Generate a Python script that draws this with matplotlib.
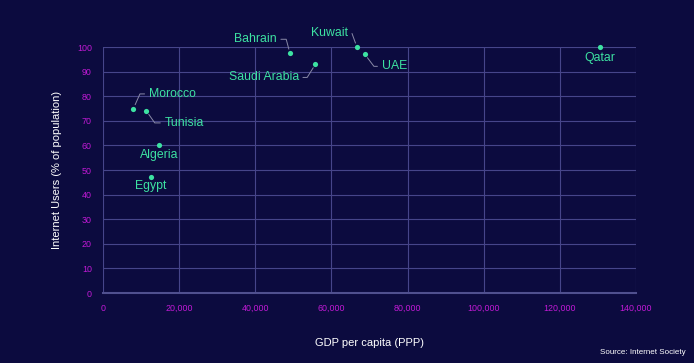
import matplotlib
matplotlib.use("Agg")
import matplotlib.pyplot as plt
from matplotlib.ticker import FuncFormatter, MultipleLocator

# data
countries = ["Bahrain", "Saudi Arabia", "Kuwait", "UAE", "Qatar",
             "Morocco", "Tunisia", "Algeria", "Egypt"]
gdp = [49100, 55800, 66700, 68800, 130500, 8000, 11400, 14800, 12600]
internet = [97.5, 93, 100, 97, 100, 75, 74, 60, 47]

# label placement: offset (points), ha, leader angle at the point (None = no line)
label_pos = {
    "Bahrain": ((-9.5, 10), "right", 105),
    "Saudi Arabia": ((-12, -9.5), "right", 238),
    "Kuwait": ((-6.5, 10), "right", 110),
    "UAE": ((12, -8.6), "left", -53),
    "Qatar": ((0, -8), "center", None),
    "Morocco": ((11, 10.5), "left", 66),
    "Tunisia": ((13, -8.6), "left", -55),
    "Algeria": ((0, -7), "center", None),
    "Egypt": ((0, -6), "center", None),
}

bg = "#0c0b3f"
green = "#3de2a2"
magenta = "#c21ad6"
gridc = "#46458a"

plt.rcParams["font.family"] = ["Liberation Sans", "DejaVu Sans"]

fig = plt.figure(figsize=(6.94, 3.63), dpi=100, facecolor=bg)
ax = fig.add_axes([0.1484, 0.1928, 0.7680, 0.6777], facecolor=bg)

ax.scatter(gdp, internet, s=14, color=green, zorder=3, linewidths=0, clip_on=False)

for c, x, y in zip(countries, gdp, internet):
    off, ha, ang = label_pos[c]
    if ang is None:
        ax.annotate(c, (x, y), xytext=off, textcoords="offset points",
                    ha=ha, va="center", color=green, fontsize=8.8)
    else:
        ax.annotate(c, (x, y), xytext=off, textcoords="offset points",
                    ha=ha, va="center", color=green, fontsize=8.8,
                    arrowprops=dict(arrowstyle="-", color="#8a8aa8", lw=0.7,
                                    shrinkA=1, shrinkB=3,
                                    connectionstyle="angle,angleA=0,angleB=%d,rad=0" % ang))

ax.set_xlim(0, 140000)
ax.set_ylim(0, 100)
ax.xaxis.set_major_locator(MultipleLocator(20000))
ax.yaxis.set_major_locator(MultipleLocator(10))
ax.xaxis.set_major_formatter(FuncFormatter(lambda v, p: f"{int(v):,}"))
ax.grid(True, color=gridc, lw=0.8)
ax.set_axisbelow(True)
for s in ["top", "right", "left"]:
    ax.spines[s].set_visible(False)
ax.spines["bottom"].set_color("#50508f")
ax.spines["bottom"].set_linewidth(1.5)
ax.tick_params(length=0, colors=magenta, labelsize=6.4, pad=8)
for t in ax.get_xticklabels() + ax.get_yticklabels():
    t.set_color(magenta)

ax.set_xlabel("GDP per capita (PPP)", color="white", fontsize=8, labelpad=18)
ax.set_ylabel("Internet Users (% of population)", color="white", fontsize=8, labelpad=10.5)
fig.text(0.988, 0.03, "Source: Internet Society", color="white", fontsize=5.8,
         ha="right", va="center")

fig.savefig("out.png", dpi=100, facecolor=bg)
